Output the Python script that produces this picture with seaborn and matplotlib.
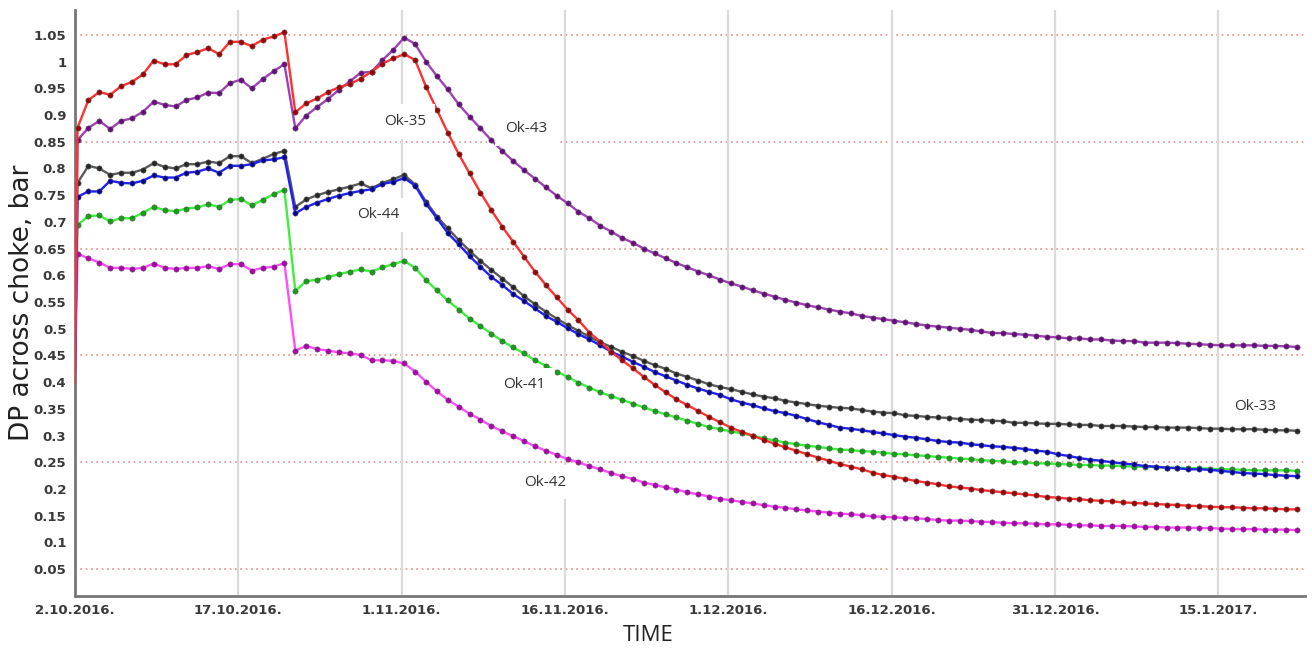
import pandas as pd
import matplotlib
matplotlib.use("Agg")
import matplotlib.pyplot as plt
import matplotlib.ticker as mticker
import matplotlib.dates as mdates
import seaborn as sns

# --- data (daily values, 2.10.2016 -> 22.1.2017) ---
start_value = 0.40

ok35 = [0.876, 0.928, 0.943, 0.938, 0.954, 0.962, 0.976, 1.002, 0.995, 0.995,
        1.012, 1.018, 1.025, 1.014, 1.037, 1.037, 1.029, 1.041, 1.047, 1.055,
        0.905, 0.922, 0.931, 0.943, 0.952, 0.958, 0.968, 0.981, 0.996, 1.006,
        1.014, 1.003, 0.953, 0.910, 0.867, 0.827, 0.791, 0.755, 0.722, 0.691,
        0.663, 0.635, 0.607, 0.582, 0.559, 0.536, 0.516, 0.493, 0.476, 0.457,
        0.441, 0.426, 0.410, 0.395, 0.381, 0.368, 0.357, 0.346, 0.335, 0.325,
        0.315, 0.307, 0.300, 0.292, 0.285, 0.278, 0.272, 0.265, 0.259, 0.253,
        0.247, 0.242, 0.237, 0.231, 0.226, 0.223, 0.219, 0.215, 0.212, 0.209,
        0.205, 0.203, 0.201, 0.198, 0.196, 0.194, 0.192, 0.190, 0.188, 0.185,
        0.184, 0.182, 0.181, 0.179, 0.178, 0.177, 0.175, 0.174, 0.173, 0.172,
        0.171, 0.170, 0.169, 0.168, 0.167, 0.166, 0.166, 0.165, 0.164, 0.164,
        0.163, 0.162, 0.162]

ok43 = [0.853, 0.876, 0.889, 0.874, 0.889, 0.894, 0.906, 0.925, 0.919, 0.916,
        0.928, 0.933, 0.942, 0.941, 0.960, 0.966, 0.950, 0.967, 0.982, 0.995,
        0.875, 0.899, 0.915, 0.930, 0.947, 0.963, 0.979, 0.981, 1.003, 1.022,
        1.045, 1.033, 1.000, 0.973, 0.948, 0.920, 0.897, 0.875, 0.853, 0.833,
        0.814, 0.797, 0.781, 0.765, 0.749, 0.735, 0.719, 0.707, 0.693, 0.682,
        0.670, 0.661, 0.650, 0.641, 0.632, 0.623, 0.615, 0.607, 0.600, 0.592,
        0.585, 0.579, 0.572, 0.566, 0.560, 0.554, 0.549, 0.544, 0.540, 0.536,
        0.532, 0.529, 0.524, 0.521, 0.518, 0.515, 0.512, 0.509, 0.506, 0.504,
        0.502, 0.500, 0.498, 0.495, 0.492, 0.492, 0.490, 0.489, 0.487, 0.485,
        0.484, 0.482, 0.482, 0.480, 0.480, 0.478, 0.477, 0.477, 0.474, 0.474,
        0.474, 0.473, 0.472, 0.471, 0.470, 0.469, 0.469, 0.469, 0.469, 0.468,
        0.468, 0.467, 0.466]

ok33 = [0.773, 0.805, 0.800, 0.788, 0.792, 0.792, 0.798, 0.810, 0.803, 0.800,
        0.808, 0.808, 0.813, 0.810, 0.823, 0.823, 0.810, 0.818, 0.827, 0.833,
        0.728, 0.742, 0.750, 0.756, 0.761, 0.766, 0.772, 0.763, 0.773, 0.780,
        0.788, 0.770, 0.738, 0.710, 0.688, 0.666, 0.646, 0.627, 0.610, 0.594,
        0.578, 0.561, 0.546, 0.532, 0.519, 0.507, 0.496, 0.485, 0.475, 0.466,
        0.457, 0.449, 0.440, 0.432, 0.425, 0.416, 0.410, 0.403, 0.396, 0.391,
        0.387, 0.382, 0.377, 0.373, 0.370, 0.365, 0.362, 0.359, 0.356, 0.354,
        0.352, 0.351, 0.348, 0.345, 0.343, 0.342, 0.338, 0.337, 0.335, 0.334,
        0.333, 0.331, 0.330, 0.329, 0.328, 0.327, 0.324, 0.324, 0.323, 0.322,
        0.322, 0.321, 0.320, 0.320, 0.318, 0.318, 0.318, 0.317, 0.316, 0.316,
        0.315, 0.315, 0.315, 0.314, 0.313, 0.313, 0.312, 0.312, 0.312, 0.311,
        0.310, 0.310, 0.309]

ok44 = [0.747, 0.757, 0.757, 0.777, 0.773, 0.772, 0.777, 0.787, 0.783, 0.783,
        0.792, 0.794, 0.800, 0.792, 0.805, 0.805, 0.808, 0.815, 0.817, 0.821,
        0.716, 0.728, 0.736, 0.743, 0.749, 0.754, 0.758, 0.761, 0.771, 0.775,
        0.782, 0.768, 0.734, 0.707, 0.679, 0.658, 0.636, 0.616, 0.597, 0.582,
        0.565, 0.552, 0.538, 0.524, 0.513, 0.501, 0.490, 0.480, 0.469, 0.457,
        0.448, 0.438, 0.429, 0.419, 0.411, 0.403, 0.395, 0.388, 0.382, 0.376,
        0.368, 0.362, 0.357, 0.351, 0.346, 0.342, 0.337, 0.331, 0.325, 0.320,
        0.315, 0.313, 0.310, 0.307, 0.304, 0.301, 0.298, 0.296, 0.293, 0.290,
        0.288, 0.287, 0.284, 0.282, 0.280, 0.279, 0.277, 0.275, 0.272, 0.270,
        0.265, 0.262, 0.258, 0.255, 0.253, 0.250, 0.248, 0.246, 0.243, 0.242,
        0.240, 0.239, 0.237, 0.237, 0.236, 0.234, 0.232, 0.230, 0.229, 0.228,
        0.226, 0.225, 0.224]

ok41 = [0.694, 0.711, 0.712, 0.701, 0.707, 0.707, 0.717, 0.728, 0.722, 0.720,
        0.725, 0.727, 0.733, 0.728, 0.741, 0.743, 0.731, 0.741, 0.752, 0.760,
        0.571, 0.589, 0.592, 0.597, 0.602, 0.607, 0.611, 0.607, 0.615, 0.621,
        0.627, 0.614, 0.591, 0.572, 0.553, 0.536, 0.519, 0.505, 0.491, 0.477,
        0.465, 0.454, 0.441, 0.431, 0.420, 0.410, 0.399, 0.390, 0.381, 0.374,
        0.367, 0.360, 0.353, 0.346, 0.340, 0.334, 0.328, 0.322, 0.316, 0.312,
        0.308, 0.304, 0.300, 0.295, 0.291, 0.287, 0.284, 0.281, 0.279, 0.276,
        0.274, 0.273, 0.271, 0.270, 0.268, 0.266, 0.265, 0.263, 0.262, 0.260,
        0.259, 0.257, 0.256, 0.254, 0.253, 0.252, 0.250, 0.250, 0.248, 0.248,
        0.247, 0.246, 0.245, 0.245, 0.244, 0.244, 0.243, 0.242, 0.242, 0.241,
        0.240, 0.240, 0.239, 0.239, 0.238, 0.237, 0.237, 0.236, 0.235, 0.235,
        0.235, 0.235, 0.234]

ok42 = [0.640, 0.632, 0.624, 0.614, 0.614, 0.612, 0.614, 0.622, 0.614, 0.612,
        0.614, 0.614, 0.617, 0.612, 0.621, 0.621, 0.609, 0.614, 0.616, 0.623,
        0.459, 0.468, 0.462, 0.459, 0.456, 0.454, 0.451, 0.441, 0.441, 0.440,
        0.435, 0.420, 0.401, 0.383, 0.367, 0.354, 0.341, 0.330, 0.318, 0.308,
        0.299, 0.290, 0.280, 0.272, 0.264, 0.256, 0.250, 0.243, 0.237, 0.230,
        0.224, 0.219, 0.212, 0.208, 0.203, 0.199, 0.194, 0.190, 0.186, 0.182,
        0.179, 0.176, 0.173, 0.170, 0.167, 0.165, 0.162, 0.160, 0.158, 0.156,
        0.154, 0.153, 0.151, 0.149, 0.148, 0.147, 0.146, 0.145, 0.144, 0.142,
        0.141, 0.141, 0.140, 0.139, 0.138, 0.137, 0.136, 0.136, 0.135, 0.134,
        0.134, 0.133, 0.132, 0.132, 0.131, 0.131, 0.131, 0.130, 0.129, 0.129,
        0.128, 0.128, 0.128, 0.127, 0.127, 0.126, 0.125, 0.125, 0.125, 0.124,
        0.124, 0.124, 0.123]

# name, values, line colour, marker colour (drawing order)
series = [
    ("Ok-41", ok41, "#3cf03c", "#14a014"),
    ("Ok-42", ok42, "#ff4cff", "#b000b0"),
    ("Ok-33", ok33, "#5a5a5a", "#262626"),
    ("Ok-44", ok44, "#1e1eff", "#00009a"),
    ("Ok-43", ok43, "#a040b4", "#6a0a82"),
    ("Ok-35", ok35, "#ff3030", "#a00000"),
]

# text labels: (text, date, value)
labels = [
    ("Ok-35", "2016-11-01 07:00", 0.888),
    ("Ok-43", "2016-11-12 10:00", 0.875),
    ("Ok-44", "2016-10-29 21:00", 0.713),
    ("Ok-41", "2016-11-12 07:00", 0.395),
    ("Ok-42", "2016-11-14 05:00", 0.213),
    ("Ok-33", "2017-01-18 10:00", 0.354),
]

tick_dates = pd.date_range("2016-10-02", periods=8, freq="15D")
y_ticks = [round(0.05 * i, 2) for i in range(1, 22)]
red_grid = [0.05, 0.25, 0.45, 0.65, 0.85, 1.05]

# --- plot ---
sns.set_theme(style="white")
plt.rcParams["font.family"] = ["DejaVu Sans"]

fig = plt.figure(figsize=(13.12, 6.52), dpi=100)
ax = fig.add_axes([0.057, 0.086, 0.938, 0.899])

days = pd.date_range("2016-10-02 06:00", periods=len(ok35), freq="D")
x = [pd.Timestamp("2016-10-02 00:00")] + list(days)

for name, vals, lc, mc in series:
    y = [start_value] + list(vals)
    sns.lineplot(x=x, y=y, ax=ax, color=lc, linewidth=1.7, sort=False,
                 estimator=None, marker="o", markersize=3.8,
                 markerfacecolor=mc, markeredgecolor="#555555",
                 markeredgewidth=0.4, markevery=slice(1, None), zorder=3)

for g in red_grid:
    ax.axhline(g, color="#f08a8a", linestyle=(0, (1, 2.2)), linewidth=1.2, zorder=1)
for d in tick_dates:
    ax.axvline(d, color="#dadada", linewidth=1.6, zorder=1)

for txt, d, v in labels:
    ax.text(pd.Timestamp(d), v, txt, ha="center", va="center", fontsize=11,
            color="#333333", family=["Open Sans", "DejaVu Sans"], zorder=5,
            bbox=dict(facecolor="white", edgecolor="none", pad=7))

ax.set_xlim(pd.Timestamp("2016-10-02"), pd.Timestamp("2017-01-23 00:00"))
ax.set_ylim(0, 1.097)
ax.set_xticks(tick_dates)
ax.xaxis.set_major_formatter(mticker.FuncFormatter(
    lambda v, p: "{d.day}.{d.month}.{d.year}.".format(d=mdates.num2date(v))))
ax.set_yticks(y_ticks)
ax.yaxis.set_major_formatter(mticker.FuncFormatter(lambda v, p: f"{v:g}"))

for lab in ax.get_xticklabels() + ax.get_yticklabels():
    lab.set_fontweight("bold")
    lab.set_fontsize(9.5)
    lab.set_color("#3a3a3a")
ax.tick_params(axis="both", length=0, pad=6)

for s in ["top", "right"]:
    ax.spines[s].set_visible(False)
for s in ["left", "bottom"]:
    ax.spines[s].set_color("#777777")
    ax.spines[s].set_linewidth(2)

ax.set_xlabel("TIME", fontsize=16, color="#222222", family=["Open Sans", "DejaVu Sans"])
ax.set_ylabel("DP across choke, bar", fontsize=19, color="#222222",
              family=["DejaVu Sans"])
ax.xaxis.label.set_va("center")
ax.yaxis.label.set_va("center")
ax.xaxis.set_label_coords(0.466, -0.068)
ax.yaxis.set_label_coords(-0.043, 0.5)

fig.savefig("out.png", dpi=100)
